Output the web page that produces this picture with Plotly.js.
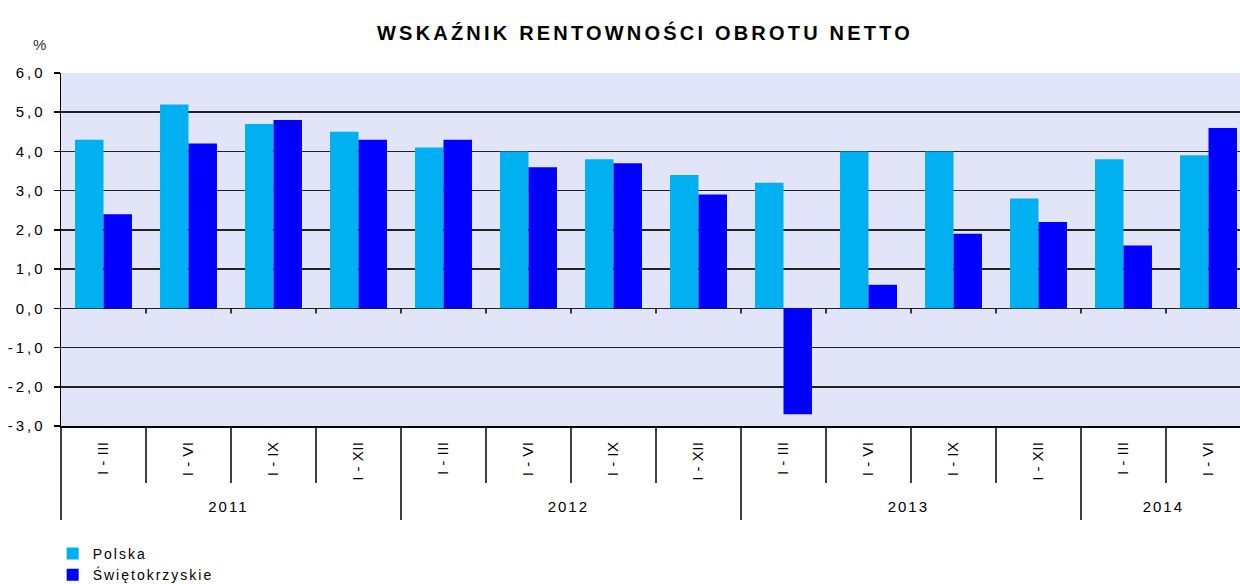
<!DOCTYPE html>
<html>
<head>
<meta charset="utf-8">
<script src="https://cdn.plot.ly/plotly-3.0.1.min.js"></script>
<style>
  html, body { margin: 0; padding: 0; overflow: hidden; background: #fff; }
  #chart { width: 1252px; height: 584px; }
  .gtitle { letter-spacing: 3.2px; }
  .xtick text { letter-spacing: 0.5px; translate: 0 8px; }
  .xtick2 text { letter-spacing: 2px; translate: 0 10px; }
  .ytick text { letter-spacing: 3px; }
  .legendtext { letter-spacing: 2px; }
  .annotation-text { letter-spacing: 1px; }
</style>
</head>
<body>
<div id="chart"></div>
<script>
const years = ['2011','2011','2011','2011','2012','2012','2012','2012','2013','2013','2013','2013','2014','2014'];
const periods = ['I - III','I - VI','I - IX','I - XII','I - III','I - VI','I - IX','I - XII','I - III','I - VI','I - IX','I - XII','I - III','I - VI'];
const polska = [4.3, 5.2, 4.7, 4.5, 4.1, 4.0, 3.8, 3.4, 3.2, 4.0, 4.0, 2.8, 3.8, 3.9];
const swietokrzyskie = [2.4, 4.2, 4.8, 4.3, 4.3, 3.6, 3.7, 2.9, -2.7, 0.6, 1.9, 2.2, 1.6, 4.6];
const seriesNames = ['Polska', 'Świętokrzyskie'];
const yTickVals = [-3, -2, -1, 0, 1, 2, 3, 4, 5, 6];
const yTickLabels = ['-3,0', '-2,0', '-1,0', '0,0', '1,0', '2,0', '3,0', '4,0', '5,0', '6,0'];
const titleText = 'WSKAŹNIK RENTOWNOŚCI OBROTU NETTO';
const unitText = '%';

const FONT = 'Liberation Sans, Arial, sans-serif';
const n = periods.length;
const plotH = 353;

const shapes = [];
for (let i = 0; i <= n; i++) {
  const yearBoundary = (i === 0 || i === n || years[i] !== years[i - 1]);
  // boundary line under the axis: long between years, short between periods
  shapes.push({type: 'line', xref: 'paper', yref: 'paper', x0: i / n, x1: i / n, y0: 0,
    y1: (yearBoundary ? -94 : -57) / plotH,
    line: {color: '#000', width: 1.5}});
  if (i > 0 && i < n) {
    // small ticks at the zero line
    shapes.push({type: 'line', xref: 'paper', yref: 'y', x0: i / n, x1: i / n, y0: 0, y1: -0.13,
      line: {color: '#000', width: 1.5}});
  }
}

const traces = [
  {type: 'bar', name: seriesNames[0], x: [years, periods], y: polska,
   marker: {color: '#00B0F0'}},
  {type: 'bar', name: seriesNames[1], x: [years, periods], y: swietokrzyskie,
   marker: {color: '#0000FF'}}
];

const layout = {
  width: 1252, height: 584,
  margin: {l: 61, r: 1, t: 73, b: 158, autoexpand: false},
  paper_bgcolor: '#ffffff',
  plot_bgcolor: '#E2E5F8',
  barmode: 'group',
  bargap: 0.33,
  bargroupgap: 0,
  font: {family: FONT, size: 15, color: '#000'},
  title: {text: titleText, font: {family: FONT, size: 20, color: '#000', weight: 'bold'},
          xref: 'container', x: 645 / 1252, xanchor: 'center', yref: 'container', y: 1 - 33 / 584, yanchor: 'middle'},
  xaxis: {
    type: 'multicategory',
    automargin: false,
    range: [-0.5, n - 0.5],
    tickangle: -90,
    ticks: '',
    showline: true, linecolor: '#000', linewidth: 1.5,
    showdividers: false,
    tickfont: {family: FONT, size: 15, color: '#000'},
    showgrid: false, zeroline: false, fixedrange: true
  },
  yaxis: {
    automargin: false,
    range: [-3, 6],
    tickvals: yTickVals, ticktext: yTickLabels,
    ticks: 'outside', ticklen: 6, tickcolor: '#000', tickwidth: 1.5,
    ticklabelstandoff: 5,
    showline: true, linecolor: '#000', linewidth: 1.5,
    showgrid: true, gridcolor: '#222', gridwidth: 1.5,
    zeroline: false,
    tickfont: {family: FONT, size: 15, color: '#000'},
    fixedrange: true
  },
  legend: {
    orientation: 'v', x: -0.007, xanchor: 'left', y: -112 / plotH, yanchor: 'top',
    font: {family: FONT, size: 14, color: '#000'},
    bgcolor: 'rgba(0,0,0,0)', tracegroupgap: 0, itemwidth: 30
  },
  showlegend: true,
  annotations: [
    {text: unitText, xref: 'paper', yref: 'paper', x: (40 - 61) / 1190, y: 1 + 28 / plotH,
     xanchor: 'center', yanchor: 'middle', showarrow: false,
     font: {family: FONT, size: 15, color: '#333'}}
  ],
  shapes: shapes
};

Plotly.newPlot('chart', traces, layout, {displayModeBar: false, staticPlot: true});
</script>
</body>
</html>
